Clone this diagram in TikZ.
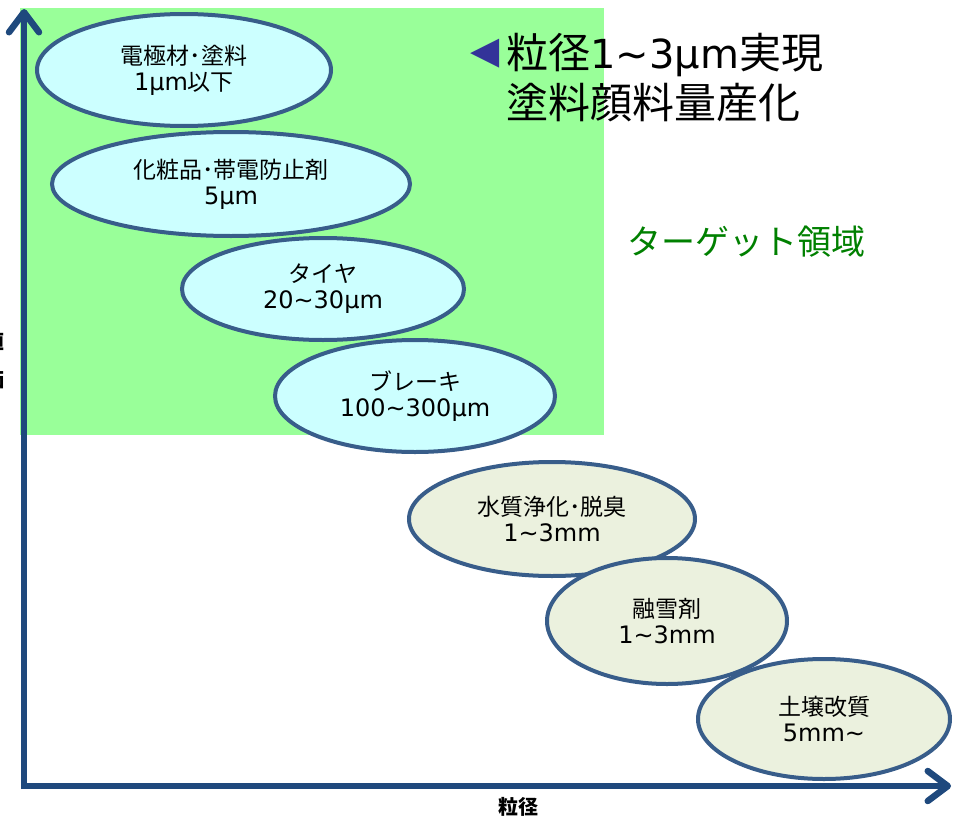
\documentclass[tikz,border=0pt]{standalone}
\usepackage{fontspec}
\setmainfont{DejaVu Sans}
\newfontfamily\jp{Noto Sans CJK JP}
\usetikzlibrary{shapes.geometric,arrows.meta}
\definecolor{zonegreen}{HTML}{99FF99}
\definecolor{cyanfill}{HTML}{CCFFFF}
\definecolor{olivefill}{HTML}{EBF1DE}
\definecolor{ellborder}{HTML}{385D8A}
\definecolor{axisblue}{HTML}{1F497D}
\definecolor{triblue}{HTML}{333399}
\definecolor{targetgreen}{HTML}{008000}
\newcommand{\J}[1]{{\fontsize{23}{26}\selectfont\jp #1}}
\newcommand{\TJ}[1]{{\fontsize{42}{50}\selectfont\jp #1}}
\tikzset{
  blob/.style={ellipse, draw=ellborder, line width=4pt, inner sep=0pt, align=center,
    font=\fontsize{24}{26}\selectfont},
  bluefill/.style={blob, fill=cyanfill},
  olivebox/.style={blob, fill=olivefill},
  axisline/.style={draw=axisblue, line width=6.5pt,
    -{Straight Barb[length=20pt,width=30pt,round]}},
}
\begin{document}
\begin{tikzpicture}[x=1pt,y=-1pt]
\useasboundingbox (0,0) rectangle (954,819);
\fill[zonegreen] (20,8) rectangle (604,435);

% ellipses
\node[bluefill, minimum width=294pt, minimum height=112pt] (e1) at (184,70) {\J{電極材･塗料}\\1μm\J{以下}};
\node[bluefill, minimum width=358pt, minimum height=104pt] (e2) at (231,184) {\J{化粧品･帯電防止剤}\\5μm};
\node[bluefill, minimum width=282pt, minimum height=102pt] (e3) at (323,289) {\J{タイヤ}\\20\textasciitilde30μm};
\node[bluefill, minimum width=280pt, minimum height=112pt] (e4) at (415,396) {\J{ブレーキ}\\100\textasciitilde300μm};
\node[olivebox, minimum width=286pt, minimum height=114pt] (e5) at (552,519) {\J{水質浄化･脱臭}\\1\textasciitilde3mm};
\node[olivebox, minimum width=240pt, minimum height=126pt] (e6) at (667,621) {\J{融雪剤}\\1\textasciitilde3mm};
\node[olivebox, minimum width=252pt, minimum height=120pt] (e7) at (824,719) {\J{土壌改質}\\5mm\textasciitilde};

% title
\node[anchor=west, font=\fontsize{38}{40}\selectfont, text=triblue, inner sep=0pt] (tri) at (470,54) {◀};
\node[anchor=north west, font=\fontsize{40}{50}\selectfont, align=left, inner sep=0pt] (title) at (506,33)
  {\TJ{粒径}1\textasciitilde3μm\TJ{実現}\\\TJ{塗料顔料量産化}};
\node[anchor=west, font=\fontsize{34}{40}\selectfont\jp, text=targetgreen, inner sep=0pt] (target) at (627,242) {ターゲット領域};

% cut-off vertical-axis label
\node[anchor=east, font=\fontsize{21}{25}\selectfont\jp\bfseries, inner sep=0pt] (yl1) at (5,342) {値};
\node[anchor=east, font=\fontsize{21}{25}\selectfont\jp\bfseries, inner sep=0pt] (yl2) at (5,380) {価};

% axes
\coordinate (ytop) at (24,9);
\coordinate (xend) at (951,786);
\draw[axisline] (24,789) -- (ytop);
\draw[axisline] (21,786) -- (xend);
\node[font=\fontsize{20}{24}\selectfont\jp\bfseries, inner sep=0pt] (xl) at (518,807) {粒径};
\end{tikzpicture}
\end{document}
